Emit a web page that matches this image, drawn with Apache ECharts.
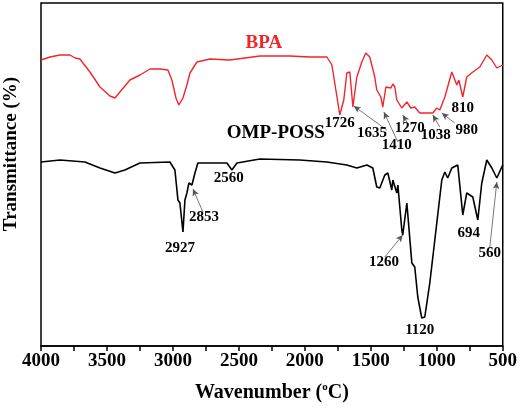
<!DOCTYPE html>
<html>
<head>
<meta charset="utf-8">
<script src="https://cdn.jsdelivr.net/npm/echarts@6/dist/echarts.min.js"></script>
<style>
  html, body { margin: 0; padding: 0; background: #fff; }
  #main { width: 520px; height: 409px; }
</style>
</head>
<body>
<div id="main"></div>
<script>
// FTIR spectra, [wavenumber, transmittance (arb.)]
var bpa = [
  [4000, 286], [3932, 289], [3856, 291], [3780, 291], [3742, 288], [3705, 287],
  [3629, 274], [3553, 259], [3477, 250], [3439, 248], [3402, 254], [3326, 266],
  [3250, 271], [3174, 277], [3098, 277], [3038, 276], [3008, 266], [2977, 248],
  [2955, 241], [2924, 248], [2894, 261], [2871, 273], [2818, 284], [2720, 287],
  [2568, 286], [2341, 290], [2114, 290], [1962, 289], [1833, 289], [1795, 281],
  [1765, 256], [1735, 231], [1705, 246], [1682, 273], [1659, 274], [1636, 239],
  [1606, 269], [1568, 284], [1538, 293], [1508, 289], [1470, 269], [1455, 256],
  [1424, 249], [1409, 239], [1386, 259], [1371, 261], [1348, 258], [1333, 262],
  [1318, 259], [1303, 246], [1265, 238], [1227, 244], [1197, 238], [1167, 239],
  [1129, 233], [1030, 233], [1000, 238], [977, 236], [939, 249], [886, 274],
  [848, 261], [833, 266], [803, 249], [773, 269], [727, 274], [674, 279],
  [621, 291], [583, 286], [545, 278], [500, 281]
];

var ompPoss = [
  [4000, 184], [3856, 186], [3667, 184], [3553, 178], [3439, 173], [3364, 176],
  [3250, 183], [3023, 184], [2985, 176], [2962, 146], [2947, 143], [2924, 114],
  [2909, 146], [2894, 153], [2879, 163], [2856, 161], [2833, 173], [2811, 183],
  [2591, 183], [2553, 176], [2515, 183], [2341, 187], [2038, 186], [1833, 184],
  [1682, 181], [1606, 178], [1530, 181], [1485, 178], [1455, 159], [1432, 158],
  [1394, 171], [1371, 173], [1341, 156], [1333, 166], [1303, 153], [1295, 161],
  [1265, 116], [1258, 111], [1227, 143], [1220, 141], [1189, 83], [1167, 79],
  [1144, 49], [1114, 28], [1091, 29], [1053, 63], [1015, 106], [962, 166],
  [939, 174], [917, 168], [886, 178], [841, 181], [803, 131], [773, 153],
  [727, 149], [689, 126], [659, 163], [621, 186], [583, 178], [545, 168],
  [500, 181]
];

// text labels [wavenumber, y, text]
var bpaLabels = [
  [2311, 303, 'BPA']
];
var nameLabels = [
  [2220, 213, 'OMP-POSS']
];
var peakLabels = [
  [1735, 223, '1726'], [1492, 213, '1635'], [1303, 201, '1410'],
  [1205, 218, '1270'], [1008, 211, '1038'], [773, 216, '980'],
  [803, 238, '810'], [2576, 168, '2560'], [2765, 129, '2853'],
  [2947, 98, '2927'], [1401, 84, '1260'], [1129, 16, '1120'],
  [757, 113, '694'], [598, 93, '560']
];

// arrows from label to peak
var arrows = [
  [[1379, 216], [1629, 240]],
  [[1295, 204], [1401, 234]],
  [[1227, 224], [1258, 231]],
  [[977, 219], [1030, 231]],
  [[864, 223], [962, 233]],
  [[2773, 134], [2848, 157]],
  [[1394, 89], [1258, 111]],
  [[598, 99], [545, 164]]
];

var xTicks = [4000, 3500, 3000, 2500, 2000, 1500, 1000, 500];

var font = '"Liberation Serif", "Times New Roman", serif';
var chart = echarts.init(document.getElementById('main'));

function textSeries(data, color, size) {
  return {
    type: 'scatter', data: data, symbolSize: 0, silent: true,
    itemStyle: { opacity: 1 },
    label: {
      show: true, position: 'inside', color: color,
      fontFamily: font, fontWeight: 'bold', fontSize: size,
      formatter: function (p) { return p.data[2]; }
    },
    z: 5
  };
}

var option = {
  animation: false,
  grid: {
    left: 41, right: 17, top: 3, bottom: 63,
    show: true, borderColor: '#000', borderWidth: 1.5
  },
  xAxis: {
    type: 'value',
    inverse: true,
    min: 500, max: 4000, interval: 500,
    name: 'Wavenumber ({sup|o}C)',
    nameLocation: 'middle',
    nameGap: 36,
    nameTextStyle: {
      fontFamily: font, fontWeight: 'bold', fontSize: 20, color: '#000',
      rich: {
        sup: { fontFamily: font, fontSize: 11, fontWeight: 'bold', color: '#000', verticalAlign: 'top', padding: [0, 0, 10, 0] }
      }
    },
    axisLine: { lineStyle: { color: '#000', width: 1.5 } },
    axisTick: { show: true, length: 5, lineStyle: { color: '#000', width: 1.5 } },
    minorTick: { show: true, splitNumber: 2, length: 5, lineStyle: { color: '#000', width: 1.5 } },
    axisLabel: {
      fontFamily: font, fontWeight: 'bold', fontSize: 19, color: '#000', margin: 6,
      formatter: function (v) { return xTicks.indexOf(v) >= 0 ? String(v) : ''; }
    },
    splitLine: { show: false }
  },
  yAxis: {
    type: 'value',
    min: 0, max: 343,
    axisLine: { show: false },
    axisTick: { show: false },
    axisLabel: { show: false },
    splitLine: { show: false }
  },
  graphic: [{
    type: 'text',
    x: 11, y: 154,
    rotation: Math.PI / 2,
    style: {
      text: 'Transmittance (%)',
      font: 'bold 19px ' + font,
      fill: '#000',
      align: 'center',
      verticalAlign: 'middle'
    }
  }],
  series: [
    {
      name: 'BPA', type: 'line', data: bpa, showSymbol: false,
      lineStyle: { color: '#f0262a', width: 1.4 }, z: 3
    },
    {
      name: 'OMP-POSS', type: 'line', data: ompPoss, showSymbol: false,
      lineStyle: { color: '#000', width: 1.6 }, z: 3,
      markLine: {
        silent: true,
        symbol: ['none', 'arrow'],
        symbolSize: [5, 7],
        label: { show: false },
        lineStyle: { color: '#555', width: 0.8, type: 'solid', opacity: 1 },
        itemStyle: { color: '#000' },
        data: arrows.map(function (a) {
          return [{ coord: a[0] }, { coord: a[1] }];
        })
      }
    },
    textSeries(bpaLabels, '#f0262a', 19),
    textSeries(nameLabels, '#000', 19),
    textSeries(peakLabels, '#000', 15)
  ]
};

chart.setOption(option);
</script>
</body>
</html>
